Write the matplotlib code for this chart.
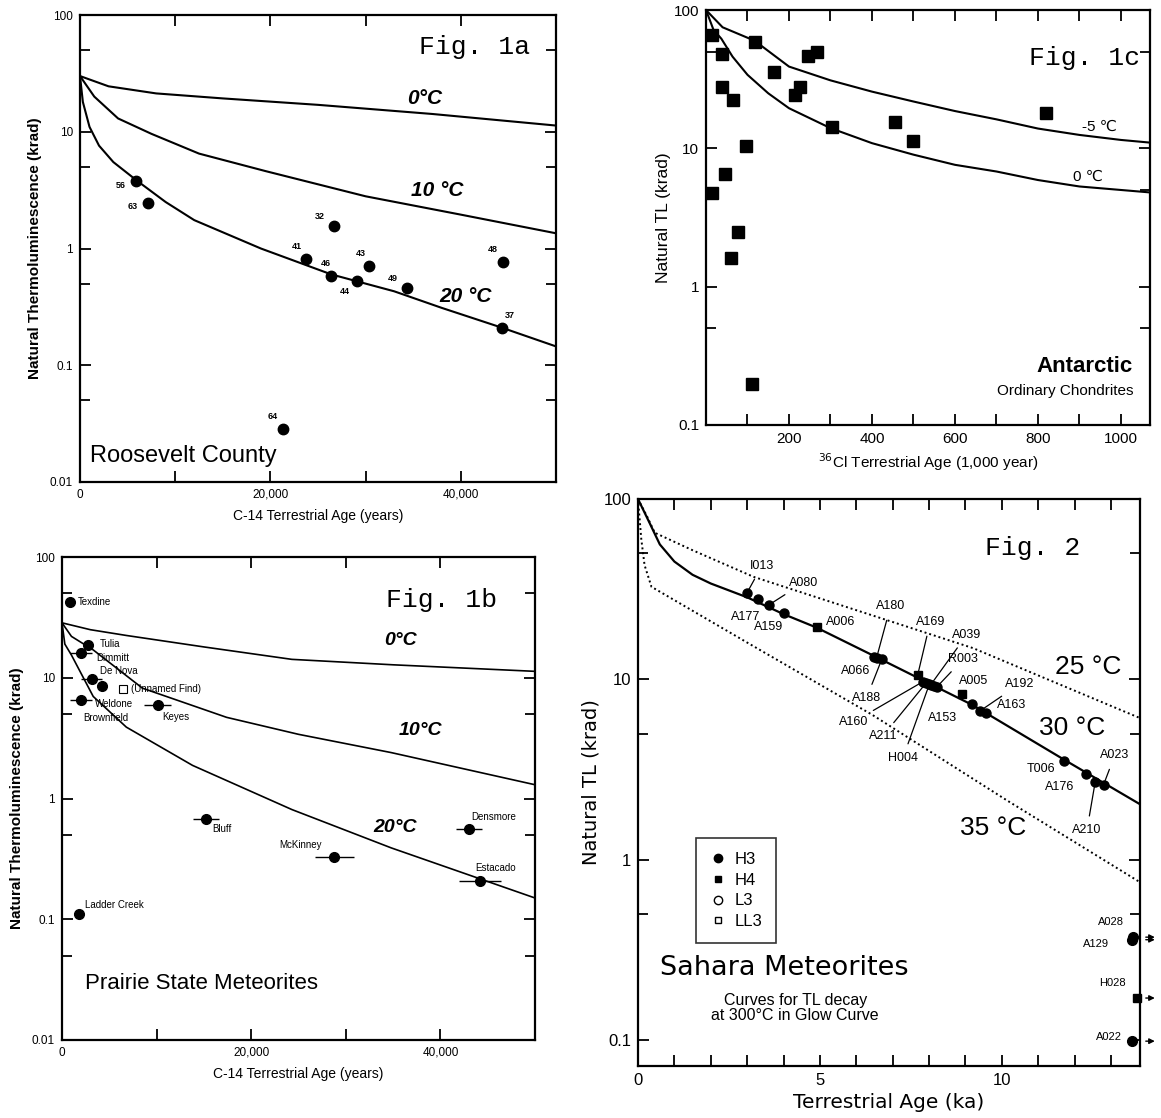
import matplotlib
matplotlib.use('Agg')
import matplotlib.pyplot as plt
from matplotlib.lines import Line2D
from matplotlib.ticker import FixedLocator, NullFormatter

plt.rcParams['font.family'] = ['Liberation Sans', 'DejaVu Sans']

# ---------------- Fig. 1a  Roosevelt County ----------------
a_curve0_age = [0, 3000, 8000, 15000, 25000, 37000, 50000]
a_curve0_tl = [30, 24.5, 21.3, 19.3, 17.0, 14.2, 11.3]
a_curve10_age = [0, 1500, 4000, 7500, 12500, 19500, 30000, 40000, 50000]
a_curve10_tl = [30, 20, 13, 9.6, 6.5, 4.6, 2.8, 1.95, 1.35]
a_curve20_age = [0, 300, 1000, 2000, 3500, 6000, 9000, 12000, 19000, 26400, 33000, 38000, 44300, 50000]
a_curve20_tl = [30, 18, 11, 7.6, 5.5, 3.8, 2.5, 1.75, 1.0, 0.6, 0.43, 0.31, 0.21, 0.145]
a_names = ['56', '63', '32', '41', '46', '43', '44', '49', '48', '37', '64']
a_age = [5900, 7100, 26700, 23700, 26400, 30400, 29100, 34300, 44400, 44300, 21300]
a_tl = [3.78, 2.44, 1.55, 0.82, 0.585, 0.71, 0.53, 0.46, 0.77, 0.21, 0.0286]
a_lab_off = [(-11, -3), (-11, -2), (-10, 7), (-6, 8.5), (-4, 8.5), (-6, 9), (-9, -8),
             (-10, 7), (-7, 9), (6, 9), (-7, 9)]

# ---------------- Fig. 1c  Antarctic ----------------
c_curvem5_age = [0, 40, 117, 200, 300, 400, 500, 600, 700, 800, 900, 1000, 1070]
c_curvem5_tl = [100, 75, 60, 39, 31, 25.7, 21.8, 18.6, 16.2, 13.9, 12.5, 11.5, 11.0]
c_curve0_age = [0, 18, 37, 64, 100, 150, 200, 300, 400, 500, 600, 700, 800, 900, 1070]
c_curve0_tl = [100, 72, 62, 46, 34, 25, 19.5, 14, 10.9, 9.0, 7.6, 6.8, 5.9, 5.3, 4.8]
c_age = [14, 15, 39, 39, 66, 45, 61, 78, 97, 119, 112, 163, 215, 226, 246, 267, 303, 455, 498, 819]
c_tl = [65.9, 4.73, 48, 27.9, 22.3, 6.52, 1.60, 2.50, 10.4, 59, 0.198, 35.4, 24.3, 27.9,
        46.8, 50, 14.2, 15.4, 11.3, 18.1]

# ---------------- Fig. 1b  Prairie State ----------------
b_curve0_age = [0, 3000, 6800, 15000, 24300, 35000, 50000]
b_curve0_tl = [28.5, 25, 22.4, 18, 14.2, 12.8, 11.3]
b_curve10_age = [0, 1000, 3300, 8500, 17400, 25000, 34800, 50000]
b_curve10_tl = [28.5, 22, 17, 8.2, 4.7, 3.4, 2.4, 1.3]
b_curve20_age = [0, 300, 1000, 3300, 6800, 13800, 24300, 34800, 50000]
b_curve20_tl = [28.5, 19, 15.4, 7.0, 3.9, 1.88, 0.81, 0.39, 0.15]
b_names = ['Texdine', 'Tulia', 'Dimmitt', 'De Nova', 'Weldone', 'Brownfield', 'Keyes',
           'Bluff', 'McKinney', 'Densmore', 'Estacado', 'Ladder Creek']
b_age = [840, 2700, 2000, 3150, 4230, 2000, 10100, 15200, 28800, 43000, 44200, 1800]
b_tl = [42, 18.8, 16.0, 9.8, 8.5, 6.5, 5.9, 0.675, 0.326, 0.555, 0.207, 0.11]
b_err = [0, 0, 1200, 1100, 0, 1200, 1400, 1400, 2100, 1400, 2200, 0]
b_lab_off = [(6, 0.5), (8.6, 0.7), (11, -3.6), (6, 5.8), (-5, -13), (1.5, -13), (3.6, -8.6),
             (5, -7), (-40, 8.6), (2, 8.6), (-3.6, 9.4), (4.3, 6.5)]
b_unnamed_age = [6400]
b_unnamed_tl = [8.05]

# ---------------- Fig. 2  Sahara ----------------
s_curve25_age = [0, 0.25, 0.46, 1.5, 3.18, 6.45, 9.21, 13.8]
s_curve25_tl = [100, 80, 65, 52, 37, 22.6, 14.9, 6.1]
s_curve30_age = [0, 0.3, 0.6, 1.0, 1.5, 2.0, 3.0, 4.0, 4.9, 6.45, 9.2, 11.7, 13.8]
s_curve30_tl = [100, 75, 56, 45, 38, 34, 28.5, 23, 19.4, 13.6, 7.2, 3.6, 2.03]
s_curve35_age = [0, 0.09, 0.18, 0.37, 3.0, 6.45, 10.13, 13.8]
s_curve35_tl = [100, 60, 43, 32.6, 16, 6.34, 2.14, 0.75]
s_names = ['I013', 'A177', 'A080', 'A159', 'A006', 'A066', 'A180', 'A188', 'A169',
           'A160', 'A211', 'H004', 'A039', 'A153', 'R003', 'A005', '', 'A192', 'A163',
           'T006', 'A176', 'A210', 'A023']
s_type = ['H3', 'H3', 'H3', 'H3', 'H4', 'H3', 'H3', 'H3', 'H4',
          'H3', 'H3', 'H3', 'H3', 'H3', 'H3', 'H4', 'H3', 'H3', 'H3',
          'H3', 'H3', 'H3', 'H3']
s_age = [2.99, 3.31, 3.59, 4.02, 4.93, 6.49, 6.56, 6.70, 7.69,
         7.83, 7.92, 8.01, 8.05, 8.15, 8.22, 8.91, 9.18, 9.41, 9.58,
         11.72, 12.31, 12.57, 12.80]
s_tl = [30.0, 27.8, 25.8, 23.2, 19.4, 13.3, 13.2, 12.9, 10.6,
        9.7, 9.55, 9.4, 9.35, 9.2, 9.1, 8.3, 7.27, 6.7, 6.47,
        3.53, 2.97, 2.71, 2.61]
s_lab_off = [(11, 20), (-9, -13), (25, 16), (-11, -10), (17, 4), (-13, -10), (10, 37),
             (-11, -28), (9, 38), (-50, -29), (-31, -38), (-19, -53), (26, 36), (6, -23),
             (19, 20), (8, 9), (0, 0), (28, 19), (18, 6), (-17, -6), (-19, -9), (-6, -35),
             (8, 21)]
s_leader = ['I013', 'A080', 'A180', 'A188', 'A169', 'A160', 'A211', 'H004', 'A039',
            'R003', 'A192', 'A023', 'A210']
s_off_names = ['A028', 'A129', 'H028', 'A022']
s_off_type = ['H3', 'H3', 'H4', 'H3']
s_off_age = [13.62, 13.58, 13.72, 13.57]
s_off_tl = [0.372, 0.36, 0.171, 0.0986]
s_off_lab = [(-16, 11), (-26, -3), (-18, 11), (-16, 3)]

fig = plt.figure(figsize=(11.61, 11.18), dpi=100)
W, H = 1161.0, 1118.0


def add_axes(l, r, t, b):
    return fig.add_axes([l / W, 1 - b / H, (r - l) / W, (b - t) / H])


def frame(ax, lsize):
    for s in ax.spines.values():
        s.set_linewidth(1.6)
    ax.tick_params(which='both', direction='in', top=True, right=True, width=1.3,
                   labelsize=lsize, pad=5)
    ax.tick_params(which='major', length=8)
    ax.tick_params(which='minor', length=7)


def log_y(ax, lo, hi, labels):
    ax.set_yscale('log')
    ax.set_ylim(lo, hi)
    majors = [10.0 ** k for k in range(-2, 3) if lo <= 10.0 ** k <= hi]
    ax.yaxis.set_major_locator(FixedLocator(majors))
    ax.set_yticklabels(labels)
    ax.yaxis.set_minor_locator(FixedLocator([5 * m for m in majors if 5 * m < hi]))
    ax.yaxis.set_minor_formatter(NullFormatter())


# ---- 1a ----
ax = add_axes(80, 556, 15, 482)
frame(ax, 8.5)
log_y(ax, 0.01, 100, ['0.01', '0.1', '1', '10', '100'])
ax.set_xlim(0, 50000)
ax.set_xticks([0, 10000, 20000, 30000, 40000, 50000])
ax.set_xticklabels(['0', '', '20,000', '', '40,000', ''])
for xa, ya in [(a_curve0_age, a_curve0_tl), (a_curve10_age, a_curve10_tl), (a_curve20_age, a_curve20_tl)]:
    ax.plot(xa, ya, color='black', lw=1.5)
ax.plot(a_age, a_tl, 'o', color='black', ms=7.5)
for n, x, y, o in zip(a_names, a_age, a_tl, a_lab_off):
    ax.annotate(n, (x, y), xytext=o, textcoords='offset points', ha='center', va='center',
                fontsize=6.5, fontweight='bold')
ax.text(0.945, 0.931, 'Fig. 1a', transform=ax.transAxes, family='Liberation Mono',
        fontsize=19, ha='right', va='center')
ax.text(0.725, 0.822, '0°C', transform=ax.transAxes, fontsize=15, fontweight='bold',
        style='italic', ha='center', va='center')
ax.text(0.75, 0.625, '10 °C', transform=ax.transAxes, fontsize=15, fontweight='bold',
        style='italic', ha='center', va='center')
ax.text(0.809, 0.398, '20 °C', transform=ax.transAxes, fontsize=15, fontweight='bold',
        style='italic', ha='center', va='center')
ax.text(0.021, 0.056, 'Roosevelt County', transform=ax.transAxes, fontsize=17,
        ha='left', va='center')
ax.set_ylabel('Natural Thermoluminescence (krad)', fontsize=11, fontweight='bold', labelpad=6)
ax.set_xlabel('C-14 Terrestrial Age (years)', fontsize=10, labelpad=6)

# ---- 1c ----
ax = add_axes(706, 1150, 10, 425)
frame(ax, 11)
log_y(ax, 0.1, 100, ['0.1', '1', '10', '100'])
ax.set_xlim(0, 1070)
ax.set_xticks(list(range(100, 1001, 100)))
ax.set_xticklabels(['' if v % 200 else str(v) for v in range(100, 1001, 100)])
ax.plot(c_curvem5_age, c_curvem5_tl, color='black', lw=1.5)
ax.plot(c_curve0_age, c_curve0_tl, color='black', lw=1.5)
ax.plot(c_age, c_tl, 's', color='black', ms=8)
ax.text(0.977, 0.884, 'Fig. 1c', transform=ax.transAxes, family='Liberation Mono',
        fontsize=19, ha='right', va='center')
ax.text(0.887, 0.718, '-5 ℃', transform=ax.transAxes, fontsize=11, ha='center', va='center')
ax.text(0.86, 0.598, '0 ℃', transform=ax.transAxes, fontsize=11, ha='center', va='center')
ax.text(0.962, 0.142, 'Antarctic', transform=ax.transAxes, fontsize=16, fontweight='bold',
        ha='right', va='center')
ax.text(0.962, 0.082, 'Ordinary Chondrites', transform=ax.transAxes, fontsize=11,
        ha='right', va='center')
ax.set_ylabel('Natural TL (krad)', fontsize=12.5, labelpad=2)
ax.set_xlabel('$^{36}$Cl Terrestrial Age (1,000 year)', fontsize=11, labelpad=4)

# ---- 1b ----
ax = add_axes(62, 535, 557, 1040)
frame(ax, 8.5)
log_y(ax, 0.01, 100, ['0.01', '0.1', '1', '10', '100'])
ax.set_xlim(0, 50000)
ax.set_xticks([0, 10000, 20000, 30000, 40000, 50000])
ax.set_xticklabels(['0', '', '20,000', '', '40,000', ''])
for xa, ya in [(b_curve0_age, b_curve0_tl), (b_curve10_age, b_curve10_tl), (b_curve20_age, b_curve20_tl)]:
    ax.plot(xa, ya, color='black', lw=1.2)
ax.errorbar(b_age, b_tl, xerr=b_err, fmt='o', color='black', ms=7, elinewidth=1.0, capsize=0)
ax.plot(b_unnamed_age, b_unnamed_tl, 's', mfc='white', mec='black', ms=6, mew=0.8)
ax.annotate('(Unnamed Find)', (b_unnamed_age[0], b_unnamed_tl[0]), xytext=(6, 0),
            textcoords='offset points', ha='left', va='center', fontsize=7)
for n, x, y, o in zip(b_names, b_age, b_tl, b_lab_off):
    ax.annotate(n, (x, y), xytext=o, textcoords='offset points', ha='left', va='center',
                fontsize=7)
ax.text(0.92, 0.911, 'Fig. 1b', transform=ax.transAxes, family='Liberation Mono',
        fontsize=19, ha='right', va='center')
ax.text(0.715, 0.828, '0°C', transform=ax.transAxes, fontsize=14, style='italic',
        fontweight='bold', ha='center', va='center')
ax.text(0.757, 0.64, '10°C', transform=ax.transAxes, fontsize=14, style='italic',
        fontweight='bold', ha='center', va='center')
ax.text(0.704, 0.439, '20°C', transform=ax.transAxes, fontsize=14, style='italic',
        fontweight='bold', ha='center', va='center')
ax.text(0.049, 0.116, 'Prairie State Meteorites', transform=ax.transAxes, fontsize=16,
        ha='left', va='center')
ax.set_ylabel('Natural Thermoluminescence (krad)', fontsize=11, fontweight='bold', labelpad=6)
ax.set_xlabel('C-14 Terrestrial Age (years)', fontsize=10, labelpad=6)

# ---- 2 ----
ax = add_axes(638, 1140, 499, 1066)
frame(ax, 12)
log_y(ax, 0.0718, 100, ['0.1', '1', '10', '100'])
ax.set_xlim(0, 13.8)
ax.set_xticks(list(range(0, 14)))
ax.set_xticklabels(['' if v % 5 else str(v) for v in range(0, 14)])
ax.tick_params(axis='x', which='major', length=8)
ax.plot(s_curve30_age, s_curve30_tl, color='black', lw=1.6)
ax.plot(s_curve25_age, s_curve25_tl, color='black', lw=1.4, ls=(0, (1, 1.5)))
ax.plot(s_curve35_age, s_curve35_tl, color='black', lw=1.4, ls=(0, (1, 1.5)))
mk = {'H3': 'o', 'H4': 's'}
for n, t, x, y, o in zip(s_names, s_type, s_age, s_tl, s_lab_off):
    ax.plot([x], [y], mk[t], color='black', ms=6.5 if t == 'H3' else 6)
    if n:
        if n in s_leader:
            ax.annotate(n, (x, y), xytext=o, textcoords='offset points', ha='center',
                        va='center', fontsize=9,
                        arrowprops=dict(arrowstyle='-', lw=0.9, color='black',
                                        shrinkA=4, shrinkB=1))
        else:
            ax.annotate(n, (x, y), xytext=o, textcoords='offset points', ha='center',
                        va='center', fontsize=9)
for n, t, x, y, o in zip(s_off_names, s_off_type, s_off_age, s_off_tl, s_off_lab):
    ax.plot([x], [y], mk[t], color='black', ms=7 if t == 'H3' else 6, clip_on=False)
    ax.annotate(n, (x, y), xytext=o, textcoords='offset points', ha='center', va='center',
                fontsize=8)
    ax.annotate('', xy=(1.035, y), xycoords=('axes fraction', 'data'),
                xytext=(1.006, y), textcoords=('axes fraction', 'data'),
                arrowprops=dict(arrowstyle='-|>', lw=1.0, color='black', mutation_scale=8))
ax.text(0.88, 0.914, 'Fig. 2', transform=ax.transAxes, family='Liberation Mono',
        fontsize=19, ha='right', va='center')
ax.text(0.896, 0.704, '25 °C', transform=ax.transAxes, fontsize=19, ha='center', va='center')
ax.text(0.865, 0.596, '30 °C', transform=ax.transAxes, fontsize=19, ha='center', va='center')
ax.text(0.707, 0.42, '35 °C', transform=ax.transAxes, fontsize=19, ha='center', va='center')
ax.text(0.044, 0.173, 'Sahara Meteorites', transform=ax.transAxes, fontsize=19.5,
        family='DejaVu Sans', ha='left', va='center')
ax.text(0.313, 0.102, 'Curves for TL decay\nat 300°C in Glow Curve', transform=ax.transAxes,
        fontsize=11.5, ha='center', va='center', linespacing=1.0)
handles = [Line2D([], [], marker='o', ls='', color='black', ms=6),
           Line2D([], [], marker='s', ls='', color='black', ms=5),
           Line2D([], [], marker='o', ls='', mfc='white', mec='black', ms=6),
           Line2D([], [], marker='s', ls='', mfc='white', mec='black', ms=5)]
leg = ax.legend(handles, ['H3', 'H4', 'L3', 'LL3'], loc='upper left',
                bbox_to_anchor=(0.0996, 0.416), frameon=True, fancybox=False,
                edgecolor='black', fontsize=12, handlelength=1.0, handletextpad=0.5,
                borderpad=0.8, labelspacing=0.35)
leg.get_frame().set_linewidth(1.2)
ax.set_ylabel('Natural TL (krad)', fontsize=14, family='DejaVu Sans', labelpad=2)
ax.set_xlabel('Terrestrial Age (ka)', fontsize=14.5, family='DejaVu Sans', labelpad=4)

fig.savefig('out.png', dpi=100)
